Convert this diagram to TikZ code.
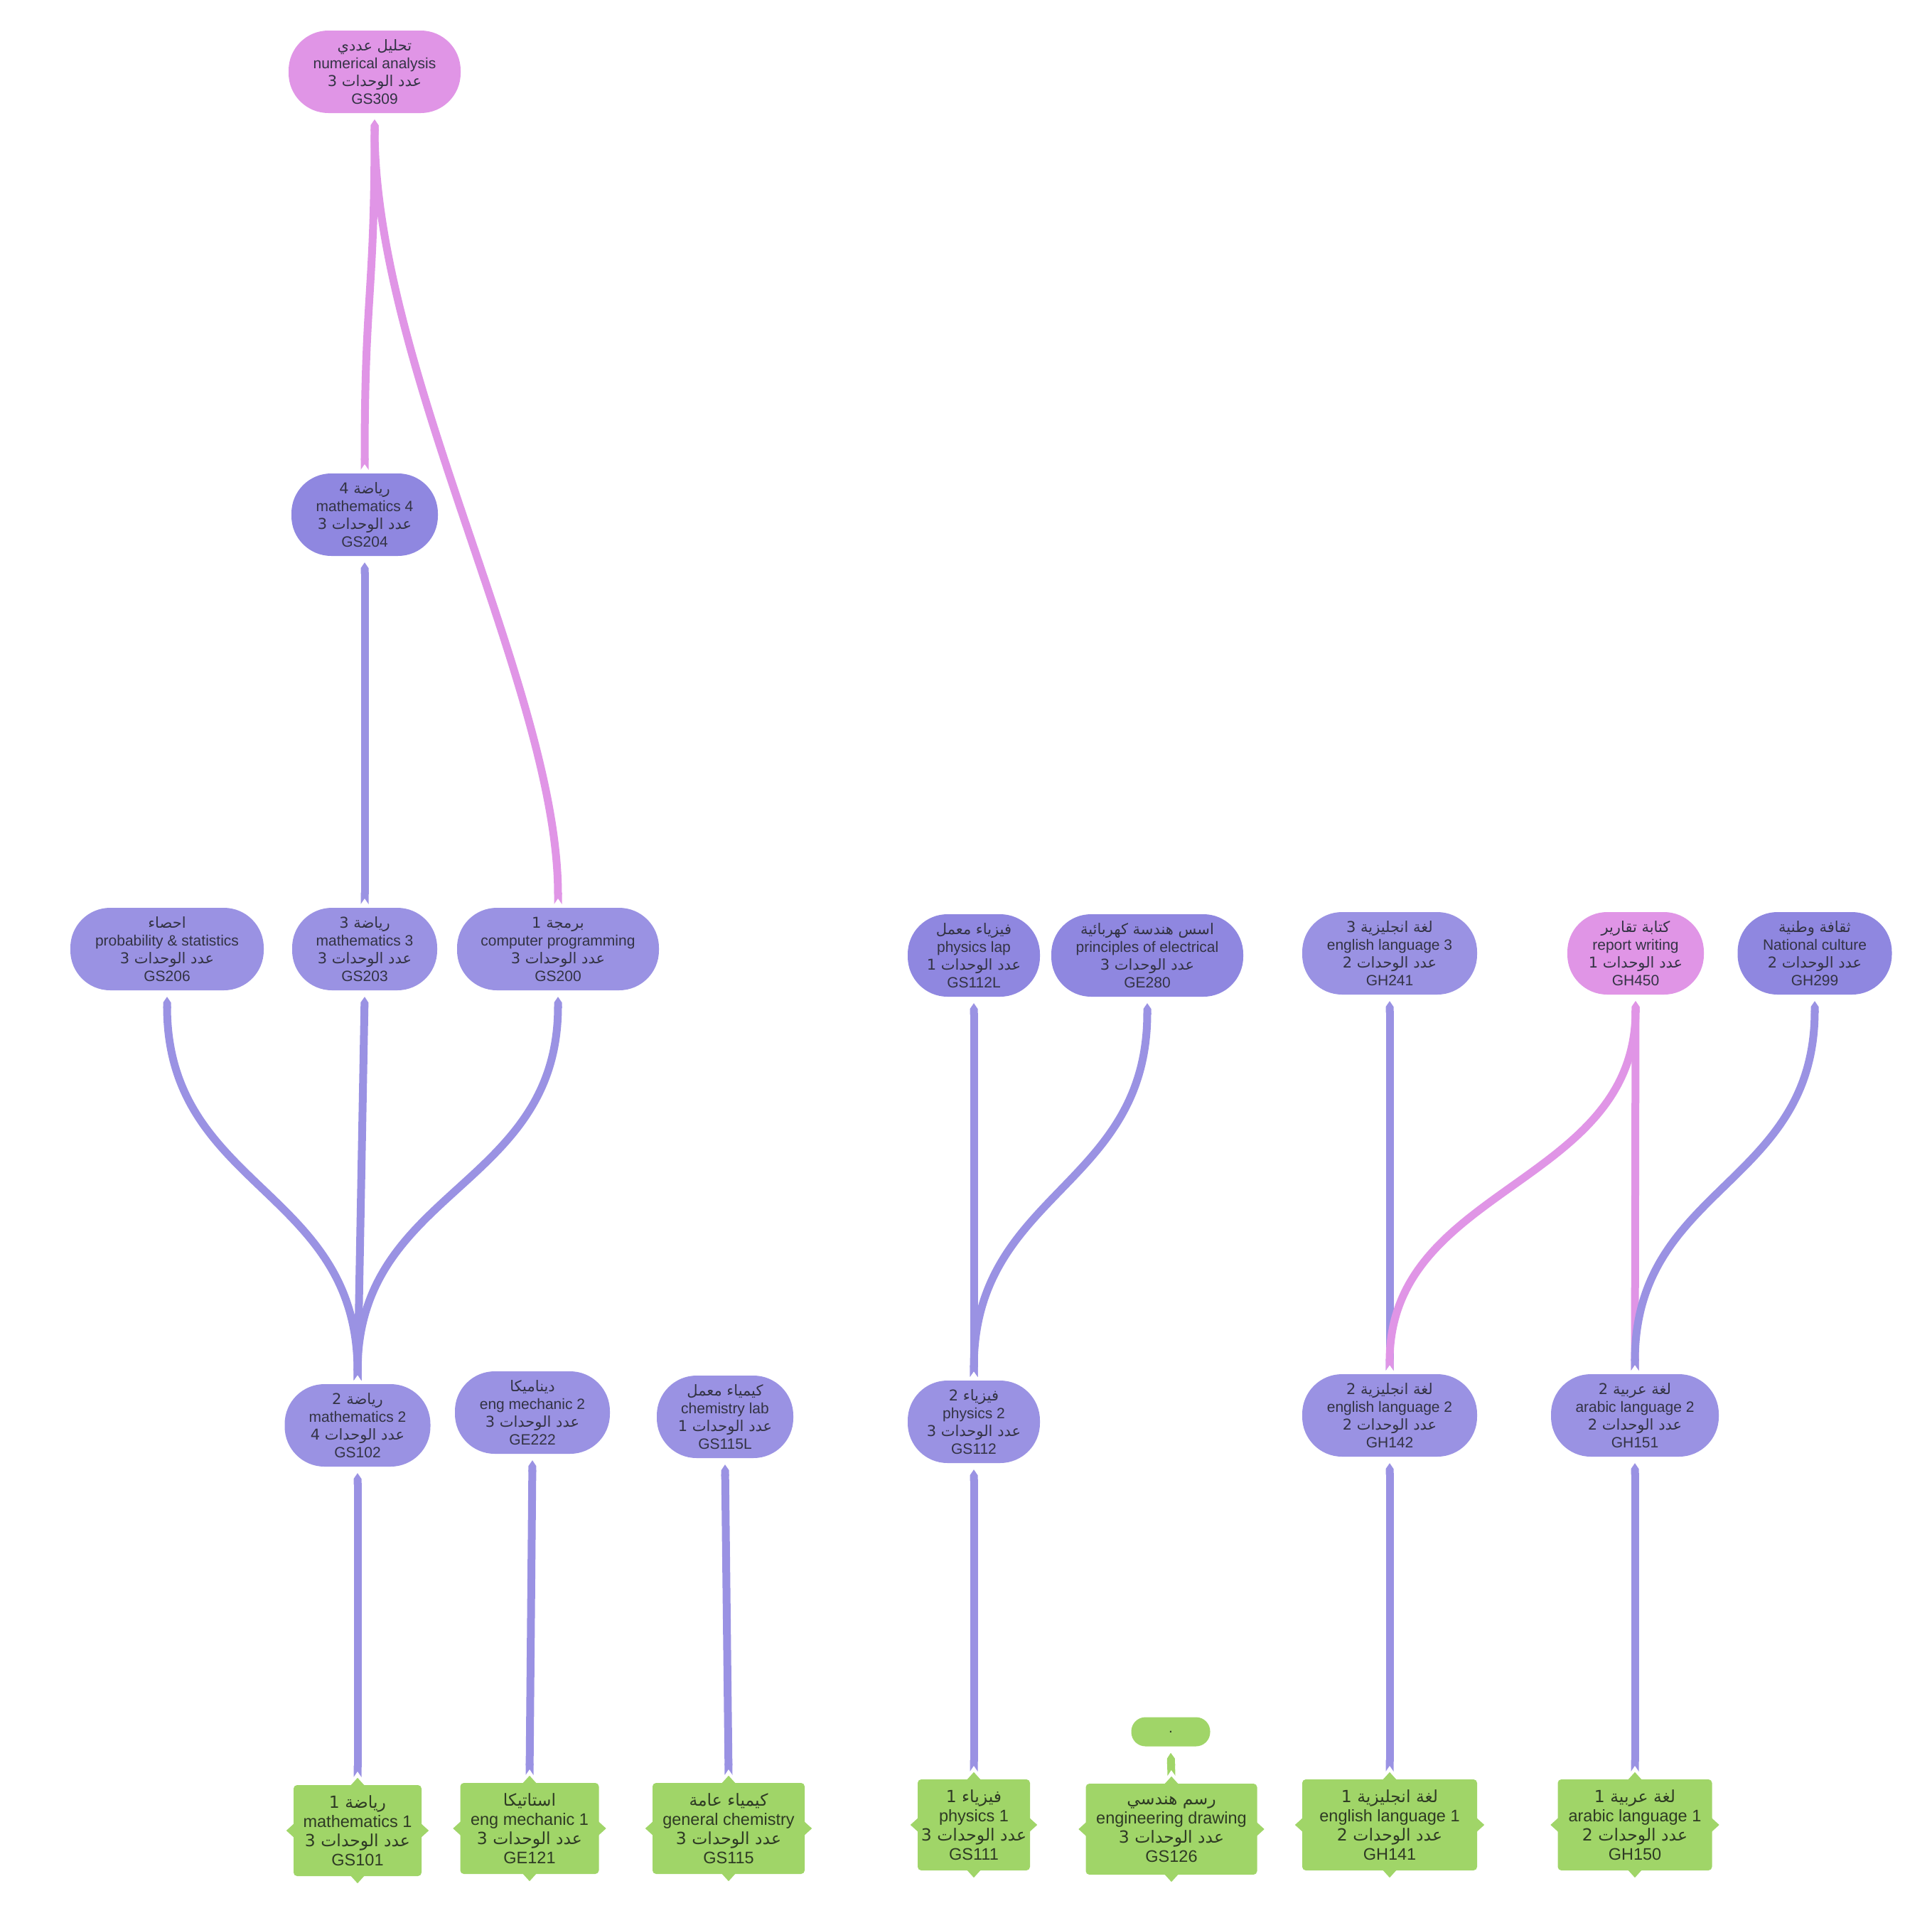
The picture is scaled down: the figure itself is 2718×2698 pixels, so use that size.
\documentclass[tikz,border=0pt]{standalone}
\usepackage{fontspec}
\setmainfont{Liberation Sans}
\newfontfamily\arabicfont[Script=Arabic]{DejaVu Sans}
\TeXXeTstate=1
\usetikzlibrary{arrows.meta,calc}
\definecolor{lavA}{HTML}{9A92E3}
\definecolor{lavB}{HTML}{8F87E0}
\definecolor{pnk}{HTML}{E095E6}
\definecolor{grn}{HTML}{A0D568}
\definecolor{txt}{HTML}{333344}
\definecolor{gtxt}{HTML}{2E3A24}
\newcommand{\artxt}[1]{{\arabicfont\beginR #1\endR}}
\newcommand{\crs}[4]{\artxt{#1}\\#2\\\artxt{عدد الوحدات #3}\\#4}
\newcommand{\gnotches}[1]{%
 \fill[grn] ([xshift=-10pt,yshift=-1pt]#1.north) -- ([yshift=10pt]#1.north) -- ([xshift=10pt,yshift=-1pt]#1.north) -- cycle;
 \fill[grn] ([xshift=-10pt,yshift=1pt]#1.south) -- ([yshift=-10pt]#1.south) -- ([xshift=10pt,yshift=1pt]#1.south) -- cycle;
 \fill[grn] ([xshift=1pt,yshift=10pt]#1.west) -- ([xshift=-10pt]#1.west) -- ([xshift=1pt,yshift=-10pt]#1.west) -- cycle;
 \fill[grn] ([xshift=-1pt,yshift=10pt]#1.east) -- ([xshift=10pt]#1.east) -- ([xshift=-1pt,yshift=-10pt]#1.east) -- cycle;
}
\tikzset{
 cnode/.style={rounded corners=56pt, minimum height=116pt, inner sep=0pt, text=txt, align=center, font=\fontsize{21}{25}\selectfont},
 gnode/.style={fill=grn, rounded corners=5pt, minimum height=128pt, inner sep=0pt, text=gtxt, align=center, font=\fontsize{23.5}{27}\selectfont},
 lnk/.style={line width=11pt, arrows={Triangle Cap[reversed,length=8pt]-Triangle Cap[length=8pt]}},
 lnkL/.style={lnk, draw=lavA},
 lnkP/.style={lnk, draw=pnk},
 lnkG/.style={lnk, draw=grn},
}
\begin{document}
\begin{tikzpicture}[x=1pt,y=-1pt]
\fill[white] (0,0) rectangle (2718,2698);
\useasboundingbox (0,0) rectangle (2718,2698);

% top
\node[cnode, fill=pnk, minimum width=242pt] (GS309) at (527,101) {\crs{تحليل عددي}{numerical analysis}{3}{GS309}};
\node[cnode, fill=lavB, minimum width=206pt] (GS204) at (513,724) {\crs{رياضة 4}{mathematics 4}{3}{GS204}};

% row 3
\node[cnode, fill=lavA, minimum width=272pt] (GS206) at (235,1335) {\crs{احصاء}{probability \& statistics}{3}{GS206}};
\node[cnode, fill=lavA, minimum width=204pt] (GS203) at (513,1335) {\crs{رياضة 3}{mathematics 3}{3}{GS203}};
\node[cnode, fill=lavA, minimum width=284pt] (GS200) at (785,1335) {\crs{برمجة 1}{computer programming}{3}{GS200}};
\node[cnode, fill=lavB, minimum width=186pt] (GS112L) at (1370,1344) {\crs{فيزياء معمل}{physics lap}{1}{GS112L}};
\node[cnode, fill=lavB, minimum width=270pt] (GE280) at (1614,1344) {\crs{اسس هندسة كهربائية}{principles of electrical}{3}{GE280}};
\node[cnode, fill=lavA, minimum width=246pt] (GH241) at (1955,1341) {\crs{لغة انجليزية 3}{english language 3}{2}{GH241}};
\node[cnode, fill=pnk, minimum width=192pt] (GH450) at (2301,1341) {\crs{كتابة تقارير}{report writing}{1}{GH450}};
\node[cnode, fill=lavB, minimum width=217pt] (GH299) at (2553,1341) {\crs{ثقافة وطنية}{National culture}{2}{GH299}};

% row 4
\node[cnode, fill=lavA, minimum width=205pt] (GS102) at (503,2005) {\crs{رياضة 2}{mathematics 2}{4}{GS102}};
\node[cnode, fill=lavA, minimum width=218pt] (GE222) at (749,1987) {\crs{ديناميكا}{eng mechanic 2}{3}{GE222}};
\node[cnode, fill=lavA, minimum width=192pt] (GS115L) at (1020,1993) {\crs{كيمياء معمل}{chemistry lab}{1}{GS115L}};
\node[cnode, fill=lavA, minimum width=186pt] (GS112) at (1370,2000) {\crs{فيزياء 2}{physics 2}{3}{GS112}};
\node[cnode, fill=lavA, minimum width=246pt] (GH142) at (1955,1991) {\crs{لغة انجليزية 2}{english language 2}{2}{GH142}};
\node[cnode, fill=lavA, minimum width=236pt] (GH151) at (2300,1991) {\crs{لغة عربية 2}{arabic language 2}{2}{GH151}};

% row 5 (green)
\node[gnode, minimum width=180pt] (GS101) at (503,2575) {\crs{رياضة 1}{mathematics 1}{3}{GS101}};
\node[gnode, minimum width=195pt] (GE121) at (745,2572) {\crs{استاتيكا}{eng mechanic 1}{3}{GE121}};
\node[gnode, minimum width=214pt] (GS115) at (1025,2572) {\crs{كيمياء عامة}{general chemistry}{3}{GS115}};
\node[gnode, minimum width=158pt] (GS111) at (1370,2567) {\crs{فيزياء 1}{physics 1}{3}{GS111}};
\node[gnode, minimum width=241pt] (GS126) at (1648,2573) {\crs{رسم هندسي}{engineering drawing}{3}{GS126}};
\node[gnode, minimum width=246pt] (GH141) at (1955,2567) {\crs{لغة انجليزية 1}{english language 1}{2}{GH141}};
\node[gnode, minimum width=217pt] (GH150) at (2300,2567) {\crs{لغة عربية 1}{arabic language 1}{2}{GH150}};
\foreach \n in {GS101,GE121,GS115,GS111,GS126,GH141,GH150} {\gnotches{\n}}
\node[fill=grn, rounded corners=20pt, minimum width=111pt, minimum height=41pt, inner sep=0pt, text=gtxt, font=\fontsize{21}{25}\selectfont] (DOT) at (1647,2436) {.};

% edges
\draw[lnkP] ([yshift=5pt]GS204.north) .. controls +(0,-250) and +(0,250) .. ([yshift=-9pt]GS309.south);
\draw[lnkP] ([yshift=5pt]GS200.north) .. controls +(0,-301) and +(0,352) .. ([yshift=-9pt]GS309.south);
\draw[lnkL] ([yshift=5pt]GS203.north) -- ([yshift=-9pt]GS204.south);
\draw[lnkL] ([yshift=5pt]GS102.north) .. controls +(0,-270) and +(0,270) .. ([yshift=-9pt]GS206.south);
\draw[lnkL] ([yshift=5pt]GS102.north) -- ([yshift=-9pt]GS203.south);
\draw[lnkL] ([yshift=5pt]GS102.north) .. controls +(0,-270) and +(0,270) .. ([yshift=-9pt]GS200.south);
\draw[lnkL] ([yshift=11pt]GS101.north) -- ([yshift=-9pt]GS102.south);
\draw[lnkL] ([yshift=11pt]GE121.north) -- ([yshift=-9pt]GE222.south);
\draw[lnkL] ([yshift=11pt]GS115.north) -- ([yshift=-9pt]GS115L.south);
\draw[lnkL] ([yshift=11pt]GS111.north) -- ([yshift=-9pt]GS112.south);
\draw[lnkL] ([yshift=5pt]GS112.north) -- ([yshift=-9pt]GS112L.south);
\draw[lnkL] ([yshift=5pt]GS112.north) .. controls +(0,-260) and +(0,260) .. ([yshift=-9pt]GE280.south);
\draw[lnkG] ([yshift=11pt]GS126.north) -- ([yshift=-9pt]DOT.south);
\draw[lnkL] ([yshift=11pt]GH141.north) -- ([yshift=-9pt]GH142.south);
\draw[lnkL] ([yshift=5pt]GH142.north) -- ([yshift=-9pt]GH241.south);
\draw[lnkP] ([yshift=5pt]GH142.north) .. controls +(0,-260) and +(0,260) .. ([yshift=-9pt]GH450.south);
\draw[lnkL] ([yshift=11pt]GH150.north) -- ([yshift=-9pt]GH151.south);
\draw[lnkP] ([yshift=5pt]GH151.north) -- ([yshift=-9pt]GH450.south);
\draw[lnkL] ([yshift=5pt]GH151.north) .. controls +(0,-260) and +(0,260) .. ([yshift=-9pt]GH299.south);
\end{tikzpicture}
\end{document}
